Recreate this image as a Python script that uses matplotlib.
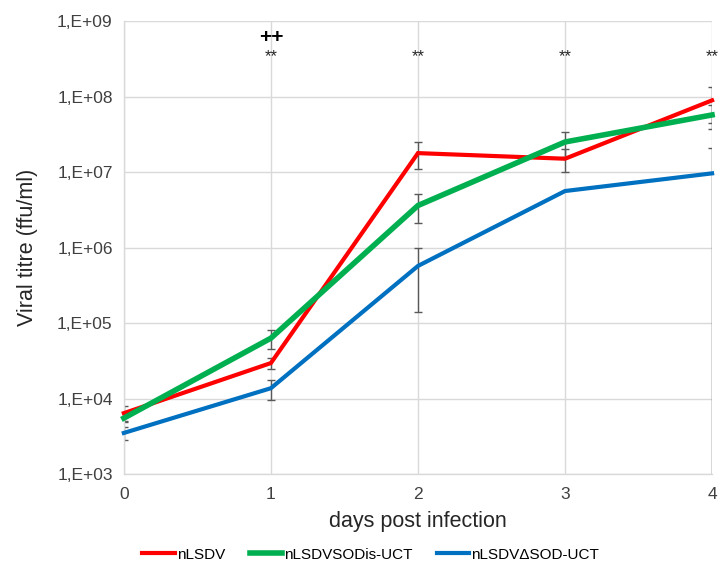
import numpy as np
import matplotlib.pyplot as plt
from matplotlib.ticker import FixedLocator, FixedFormatter, NullLocator

plt.rcParams['font.family'] = ['Liberation Sans', 'DejaVu Sans']

days = [0, 1, 2, 3, 4]

# viral titres (ffu/ml)
nlsdv = [6.4e3, 2.95e4, 1.78e7, 1.5e7, 8.9e7]
nlsdv_err = [1.5e3, 5e3, 7e6, 5e6, 4.5e7]

sodis = [5.5e3, 6.3e4, 3.6e6, 2.5e7, 5.7e7]
sodis_err = [0.5e3, 1.8e4, 1.5e6, 9e6, 2e7]

dsod = [3.5e3, 1.37e4, 5.7e5, 5.6e6, 9.6e6]
dsod_err = [0.7e3, 4e3, 4.3e5, 0, 1.15e7]

star_days = [1, 2, 3, 4]
plus_days = [1]

ytick_vals = [1e3, 1e4, 1e5, 1e6, 1e7, 1e8, 1e9]
ytick_labels = ['1,E+03', '1,E+04', '1,E+05', '1,E+06', '1,E+07', '1,E+08', '1,E+09']

fig = plt.figure(figsize=(7.2, 5.79), dpi=100)
ax = fig.add_axes([0.172, 0.1813, 0.817, 0.7824])

series = [
    (nlsdv, nlsdv_err, '#FF0000', 3.0, 'nLSDV'),
    (sodis, sodis_err, '#00B050', 4.0, 'nLSDVSODis-UCT'),
    (dsod, dsod_err, '#0070C0', 3.0, 'nLSDV\u0394SOD-UCT'),
]

cap_w = 0.025  # half width of error caps, in days
x = np.array(days, dtype=float)
for vals, err, col, lw, lab in series:
    v = np.array(vals)
    e = np.array(err)
    lo = v - e
    ok = lo > 0
    hi_pts = e > 0
    ax.vlines(x[hi_pts], np.where(ok, lo, 1e3)[hi_pts], (v + e)[hi_pts],
              color='#595959', lw=1.0, zorder=2)
    ax.hlines((v + e)[hi_pts], x[hi_pts] - cap_w, x[hi_pts] + cap_w,
              color='#595959', lw=1.0, zorder=2)
    ax.hlines(lo[ok & hi_pts], (x - cap_w)[ok & hi_pts], (x + cap_w)[ok & hi_pts],
              color='#595959', lw=1.0, zorder=2)
for vals, err, col, lw, lab in series:
    ax.plot(days, vals, color=col, lw=lw, label=lab, zorder=3,
            solid_joinstyle='miter', clip_on=False)

ax.set_yscale('log')
ax.set_ylim(1e3, 1e9)
ax.set_xlim(0, 4)
ax.yaxis.set_major_locator(FixedLocator(ytick_vals))
ax.yaxis.set_major_formatter(FixedFormatter(ytick_labels))
ax.yaxis.set_minor_locator(NullLocator())
ax.set_xticks(days)

ax.grid(True, color='#D9D9D9', lw=1.0)
ax.set_axisbelow(True)
for s in ['top', 'right']:
    ax.spines[s].set_visible(False)
for s in ['left', 'bottom']:
    ax.spines[s].set_color('#D9D9D9')
    ax.spines[s].set_linewidth(1.0)
ax.tick_params(length=0, labelsize=12.5, colors='#404040', pad=8)
ax.tick_params(axis='x', pad=9)

ax.set_xlabel('days post infection', fontsize=15.5, color='#262626', labelpad=7)
ax.set_ylabel('Viral titre (ffu/ml)', fontsize=15.5, color='#262626', labelpad=14)

for d in star_days:
    ax.text(d, 3.4e8, '**', ha='center', va='center', fontsize=12,
            color='#262626', clip_on=False)
for d in plus_days:
    ax.text(d, 6.0e8, '++', ha='center', va='center', fontsize=15,
            color='#000000', fontweight='bold')

fig.legend(loc='center', bbox_to_anchor=(0.515, 0.042), ncol=3, frameon=False,
           fontsize=11, handlelength=2.1, handletextpad=0.15, columnspacing=1.6)

fig.savefig('out.png', dpi=100)
